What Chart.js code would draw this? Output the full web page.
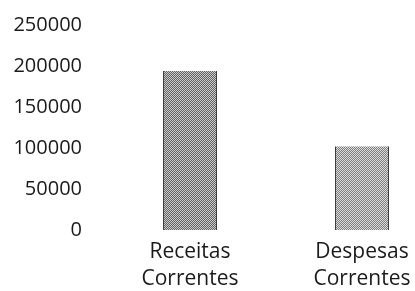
<!DOCTYPE html>
<html>
<head>
<meta charset="utf-8">
<script src="https://cdn.jsdelivr.net/npm/chart.js@4/dist/chart.umd.min.js"></script>
<style>
  html, body { margin: 0; padding: 0; background: #fff; overflow: hidden; }
  #grafico { display: block; }
</style>
</head>
<body>
<canvas id="grafico" width="415" height="291"></canvas>
<script>
// dados
const categorias = [["Receitas", "Correntes"], ["Despesas", "Correntes"]];
const valores = [194000, 102000];
const ticksY = [0, 50000, 100000, 150000, 200000, 250000];

// textura pontilhada das barras (xadrez de dois cinzas)
function textura(escuro, claro) {
  const c = document.createElement("canvas");
  c.width = 4; c.height = 4;
  const g = c.getContext("2d");
  for (let i = 0; i < 4; i++) {
    for (let j = 0; j < 4; j++) {
      g.fillStyle = (i + j) % 2 ? escuro : claro;
      g.fillRect(i, j, 1, 1);
    }
  }
  return g.createPattern(c, "repeat");
}

const ctx = document.getElementById("grafico").getContext("2d");
const coresBarras = [textura("#626262", "#cbcbcb"), textura("#7e7e7e", "#dcdcdc")];
const fonte = { family: "'Open Sans', sans-serif", size: 20 };

new Chart(ctx, {
  type: "bar",
  data: {
    labels: categorias,
    datasets: [{
      data: valores,
      backgroundColor: coresBarras,
      borderColor: "#3c3c3c",
      borderWidth: { left: 1, right: 1, top: 0, bottom: 0 },
      barPercentage: 0.314,
      categoryPercentage: 1,
      clip: false
    }]
  },
  options: {
    responsive: false,
    animation: false,
    layout: { padding: { top: 25, right: 53, bottom: 0, left: 0 } },
    plugins: { legend: { display: false }, tooltip: { enabled: false } },
    scales: {
      x: {
        offset: false,
        grid: { display: false, drawTicks: false },
        border: { display: false },
        ticks: { color: "#1a1a1a", font: { ...fonte, size: 21, lineHeight: 1.28 }, padding: 9, maxRotation: 0, autoSkip: false },
        afterFit: (s) => { s.height = 61; s.paddingLeft = 0; s.paddingRight = 0; }
      },
      y: {
        min: 0,
        max: 250000,
        grid: { display: false, drawTicks: false },
        border: { display: false },
        afterBuildTicks: (s) => { s.ticks = ticksY.map(v => ({ value: v })); },
        ticks: { color: "#1a1a1a", font: fonte, padding: 108, callback: (v) => String(v) },
        afterFit: (s) => { s.width = 190; s.paddingTop = 0; s.paddingBottom = 0; }
      }
    }
  }
});
</script>
</body>
</html>
